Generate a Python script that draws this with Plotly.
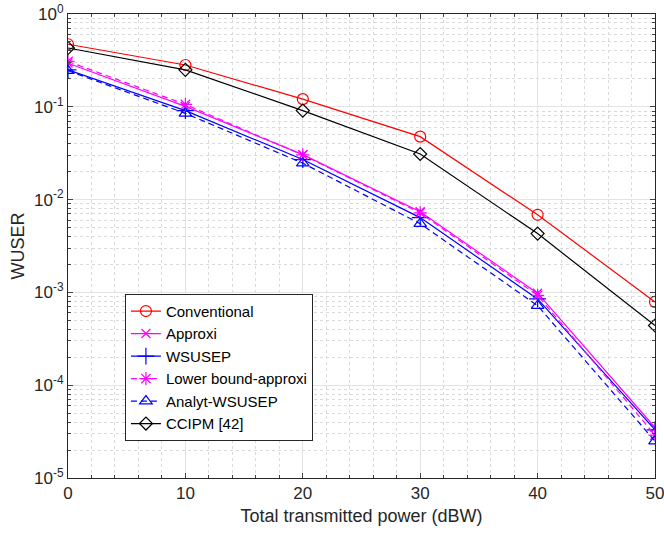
import plotly.graph_objects as go

# transmitted power (dBW)
power = [0, 10, 20, 30, 40, 50]

# WUSER values
conventional = [0.472, 0.282, 0.121, 0.0477, 0.00686, 7.9e-4]
approxi = [0.295, 0.101, 0.0305, 0.0074, 9.8e-4, 3.5e-5]
wsusep = [0.25, 0.091, 0.027, 0.0064, 8.5e-4, 3.3e-5]
lower_bound = [0.308, 0.106, 0.0303, 0.0072, 9.3e-4, 2.9e-5]
analyt = [0.245, 0.085, 0.0247, 0.0055, 7.2e-4, 2.5e-5]
ccipm = [0.43, 0.25, 0.091, 0.031, 0.0043, 4.4e-4]

ytick_vals = [1e-5, 1e-4, 1e-3, 1e-2, 1e-1, 1]
ytick_text = ["10<sup>-5</sup>", "10<sup>-4</sup>", "10<sup>-3</sup>",
              "10<sup>-2</sup>", "10<sup>-1</sup>", "10<sup>0</sup>"]

series = [
    ("Conventional", conventional, "#ff0000", "solid", "circle-open", 11),
    ("Approxi", approxi, "#ff00ff", "solid", "x-thin-open", 9),
    ("WSUSEP", wsusep, "#0000ff", "solid", "cross-thin-open", 12),
    ("Lower bound-approxi", lower_bound, "#ff00ff", "6px,4px", "asterisk-open", 11),
    ("Analyt-WSUSEP", analyt, "#0000ff", "6px,4px", "triangle-up-open", 11),
    ("CCIPM [42]", ccipm, "#000000", "solid", "diamond-open", 10),
]

fig = go.Figure()
for name, vals, col, dash, sym, size in series:
    fig.add_trace(go.Scatter(
        x=power, y=vals, name=name, mode="lines+markers",
        line=dict(color=col, width=1.2, dash=dash),
        marker=dict(symbol=sym, size=size, color=col, line=dict(color=col, width=1.2)),
    ))

fig.update_layout(
    width=664, height=534,
    margin=dict(l=68, r=9, t=14, b=56),
    paper_bgcolor="white", plot_bgcolor="white",
    font=dict(family="Liberation Sans, Arial, sans-serif", size=16, color="#262626"),
    showlegend=True,
    legend=dict(
        x=0.097, y=0.397, xanchor="left", yanchor="top",
        bgcolor="white", bordercolor="#262626", borderwidth=1,
        font=dict(size=15, color="black"), tracegroupgap=0,
        itemwidth=30,
    ),
)

fig.update_xaxes(
    range=[0, 50], tickvals=power, ticks="inside", ticklen=5,
    automargin=False, ticklabeloverflow="allow",
    showline=True, linecolor="#262626", linewidth=1, mirror="ticks",
    showgrid=True, gridcolor="#e3e3e3", gridwidth=1, zeroline=False,
    minor=dict(dtick=2, showgrid=True, gridcolor="#dadada", griddash="dot",
               ticks="inside", ticklen=3),
    tickfont=dict(size=17),
    title=dict(text="Total transmitted power (dBW)", font=dict(size=18), standoff=6),
)
fig.update_yaxes(
    type="log", range=[-5, 0], tickvals=ytick_vals, ticktext=ytick_text,
    ticks="inside", ticklen=5,
    automargin=False, ticklabeloverflow="allow",
    showline=True, linecolor="#262626", linewidth=1, mirror="ticks",
    showgrid=True, gridcolor="#e3e3e3", gridwidth=1, zeroline=False,
    minor=dict(dtick="D1", showgrid=True, gridcolor="#dadada", griddash="dot",
               ticks="inside", ticklen=3),
    title=dict(text="WUSER", font=dict(size=18), standoff=4),
    tickfont=dict(size=17),
)

# drop the default body margin so the figure fills the window exactly
fig.write_html("out.html", config={"displayModeBar": False},
               post_script="document.body.style.margin='0';")
